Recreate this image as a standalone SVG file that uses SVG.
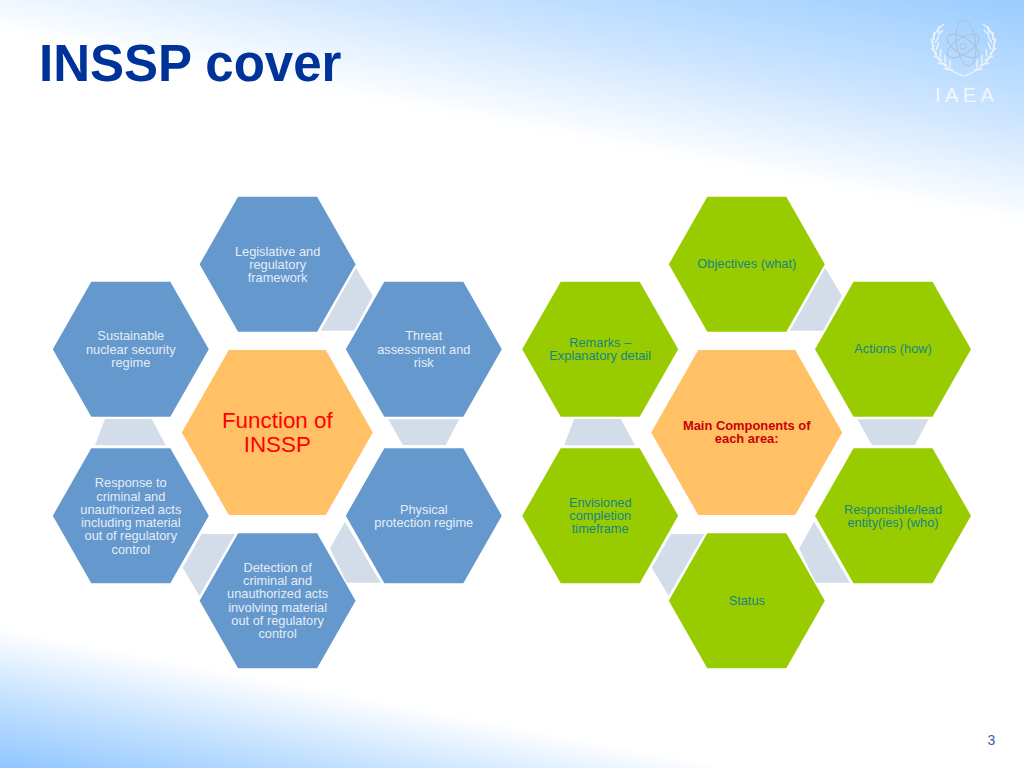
<svg xmlns="http://www.w3.org/2000/svg" xmlns:xlink="http://www.w3.org/1999/xlink" width="1024" height="768" viewBox="0 0 1024 768">
<style>
text{font-family:"Liberation Sans",Arial,sans-serif;text-anchor:middle}
.blue{fill:#6598cc}
.green{fill:#99cc00}
.core{fill:#ffc066}
.conn{fill:#d2dde9}
.bt{font-size:12.8px;fill:#e4edf7}
.gt{font-size:12.8px;fill:#168680}
.lf{fill:none;stroke:#eaf2fa;stroke-width:1.5}
.at{fill:none;stroke:#adc3dc;stroke-width:1.2}
</style>
<defs>
<linearGradient id="bgTop" gradientUnits="userSpaceOnUse" x1="1024" y1="0" x2="983" y2="217">
<stop offset="0" stop-color="#99ccff"/><stop offset="0.55" stop-color="#cde5ff"/><stop offset="1" stop-color="#ffffff"/>
</linearGradient>
<linearGradient id="bgBot" gradientUnits="userSpaceOnUse" x1="0" y1="768" x2="26" y2="632">
<stop offset="0" stop-color="#8fc6ff"/><stop offset="0.5" stop-color="#c4e1ff"/><stop offset="1" stop-color="#ffffff"/>
</linearGradient>
<polygon id="hex" points="-78,0 -39.5,-67.5 39.5,-67.5 78,0 39.5,67.5 -39.5,67.5"/>
<polygon id="hexBig" points="-95.5,0 -48.5,-82.5 48.5,-82.5 95.5,0 48.5,82.5 -48.5,82.5"/>
<g id="branch">
<path class="lf" d="M963 76C948 71 936 60 933 47C931 38 936 30 944 24"/>
<path class="lf" d="M953 70l-9-1M947 65l-9-2M942 60l-8-4M937 54l-6-6M934 47l-3-8M934 40l0-8M938 33l1-7M950 68l0-8M945 63l0-8M940 57l1-8M936 50l3-8M935 43l4-7M938 35l5-5"/>
</g>
</defs>
<g id="background">
<rect x="0" y="0" width="1024" height="250" fill="url(#bgTop)"/>
<polygon points="0,625 715,762 715,768 0,768" fill="url(#bgBot)"/>
</g>
<text x="39" y="81" style="text-anchor:start;font-size:51px;font-weight:bold;fill:#003399">INSSP cover</text>
<g id="logo">
<use xlink:href="#branch" href="#branch"/>
<use xlink:href="#branch" href="#branch" transform="translate(1927,0) scale(-1,1)"/>
<ellipse class="at" cx="966" cy="43" rx="9.5" ry="23" transform="rotate(-8 966 43)"/>
<ellipse class="at" cx="963" cy="46" rx="8" ry="18" transform="rotate(58 963 46)"/>
<ellipse class="at" cx="963" cy="46" rx="8" ry="18" transform="rotate(-58 963 46)"/>
<circle class="at" cx="963" cy="46" r="3"/>
<text x="935" y="102" style="text-anchor:start;font-size:20px;letter-spacing:4.4px;fill:#f2f7fd">IAEA</text>
</g>
<g id="connectors">
<g id="connectors-left">
<polygon class="conn" points="356,268 372.7,295.7 354,330.7 320.7,330.7"/>
<polygon class="conn" points="388.3,419.3 459.3,419.3 445.7,445 402.7,445"/>
<polygon class="conn" points="345,521.7 380.7,582.7 346.7,582.7 330,548.3"/>
<polygon class="conn" points="201.7,534 235,534 199.3,595.7 182.7,567.7"/>
<polygon class="conn" points="105,419 151.7,419 165.7,445.3 95,445.3"/>
</g>
<g id="connectors-right" transform="translate(469.2,0)">
<polygon class="conn" points="356,268 372.7,295.7 354,330.7 320.7,330.7"/>
<polygon class="conn" points="388.3,419.3 459.3,419.3 445.7,445 402.7,445"/>
<polygon class="conn" points="345,521.7 380.7,582.7 346.7,582.7 330,548.3"/>
<polygon class="conn" points="201.7,534 235,534 199.3,595.7 182.7,567.7"/>
<polygon class="conn" points="105,419 151.7,419 165.7,445.3 95,445.3"/>
</g>
</g>
<g id="n-legislative"><use xlink:href="#hex" href="#hex" class="blue" x="277.6" y="264.3"/><text class="bt" x="277.6" y="255.5">Legislative and<tspan x="277.6" dy="13.2">regulatory</tspan><tspan x="277.6" dy="13.2">framework</tspan></text></g>
<g id="n-threat"><use xlink:href="#hex" href="#hex" class="blue" x="423.8" y="349.2"/><text class="bt" x="423.8" y="340.3">Threat<tspan x="423.8" dy="13.2">assessment and</tspan><tspan x="423.8" dy="13.2">risk</tspan></text></g>
<g id="n-physical"><use xlink:href="#hex" href="#hex" class="blue" x="423.8" y="515.8"/><text class="bt" x="423.8" y="513.5">Physical<tspan x="423.8" dy="13.2">protection regime</tspan></text></g>
<g id="n-detection"><use xlink:href="#hex" href="#hex" class="blue" x="277.6" y="600.8"/><text class="bt" x="277.6" y="571.8">Detection of<tspan x="277.6" dy="13.3">criminal and</tspan><tspan x="277.6" dy="13.3">unauthorized acts</tspan><tspan x="277.6" dy="13.3">involving material</tspan><tspan x="277.6" dy="13.3">out of regulatory</tspan><tspan x="277.6" dy="13.3">control</tspan></text></g>
<g id="n-response"><use xlink:href="#hex" href="#hex" class="blue" x="130.8" y="515.8"/><text class="bt" x="130.8" y="487.2">Response to<tspan x="130.8" dy="13.3">criminal and</tspan><tspan x="130.8" dy="13.3">unauthorized acts</tspan><tspan x="130.8" dy="13.3">including material</tspan><tspan x="130.8" dy="13.3">out of regulatory</tspan><tspan x="130.8" dy="13.3">control</tspan></text></g>
<g id="n-sustainable"><use xlink:href="#hex" href="#hex" class="blue" x="130.8" y="349.2"/><text class="bt" x="130.8" y="340.3">Sustainable<tspan x="130.8" dy="13.2">nuclear security</tspan><tspan x="130.8" dy="13.2">regime</tspan></text></g>
<g id="n-function"><use xlink:href="#hexBig" href="#hexBig" class="core" x="277.3" y="432.5"/><text x="277.3" y="428" style="font-size:22.4px;fill:#ff0000">Function of<tspan x="277.3" dy="23.5">INSSP</tspan></text></g>
<g id="n-objectives"><use xlink:href="#hex" href="#hex" class="green" x="746.8" y="264.3"/><text class="gt" x="746.8" y="268.3">Objectives (what)</text></g>
<g id="n-actions"><use xlink:href="#hex" href="#hex" class="green" x="893" y="349.2"/><text class="gt" x="893" y="353">Actions (how)</text></g>
<g id="n-responsible"><use xlink:href="#hex" href="#hex" class="green" x="893" y="515.8"/><text class="gt" x="893" y="513.5">Responsible/lead<tspan x="893" dy="13.2">entity(ies) (who)</tspan></text></g>
<g id="n-status"><use xlink:href="#hex" href="#hex" class="green" x="746.8" y="600.8"/><text class="gt" x="746.8" y="605">Status</text></g>
<g id="n-envisioned"><use xlink:href="#hex" href="#hex" class="green" x="600.2" y="515.8"/><text class="gt" x="600.2" y="507">Envisioned<tspan x="600.2" dy="13.2">completion</tspan><tspan x="600.2" dy="13.2">timeframe</tspan></text></g>
<g id="n-remarks"><use xlink:href="#hex" href="#hex" class="green" x="600.2" y="349.2"/><text class="gt" x="600.2" y="346.5">Remarks –<tspan x="600.2" dy="13.2">Explanatory detail</tspan></text></g>
<g id="n-main"><use xlink:href="#hexBig" href="#hexBig" class="core" x="746.7" y="432.5"/><text x="746.7" y="430" style="font-size:12.9px;font-weight:bold;fill:#cc0000">Main Components of<tspan x="746.7" dy="13">each area:</tspan></text></g>
<text x="991.5" y="745" style="font-size:14px;fill:#3d5cb0">3</text>
</svg>
